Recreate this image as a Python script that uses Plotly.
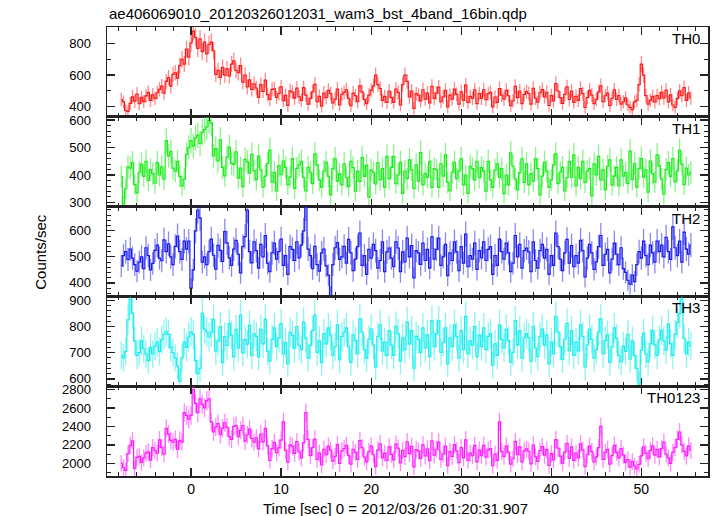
import plotly.graph_objects as go

# time grid of the light-curve bins (sec from trigger)
t_start = -7.75
bin_sec = 0.25

th0 = [
    445, 430, 375, 370, 420, 462, 435, 480, 418, 458, 432, 468, 490, 440, 475, 452, 488, 510, 530, 485,
    560, 585, 530, 605, 615, 580, 660, 700, 670, 765, 715, 805, 880, 840, 770, 830, 750, 810, 735, 795,
    810, 755, 605, 630, 585, 650, 600, 640, 595, 670, 690, 630, 615, 660, 555, 600, 525, 570, 510, 545,
    518, 459, 539, 497, 568, 476, 446, 509, 513, 458, 483, 525, 437, 471, 408, 500, 492, 454, 517, 462,
    440, 520, 473, 415, 452, 494, 541, 431, 465, 402, 486, 457, 503, 482, 423, 448, 511, 410, 478, 490,
    507, 452, 406, 486, 469, 431, 532, 494, 444, 419, 473, 503, 530, 600, 540, 515, 440, 465, 427, 499,
    457, 427, 511, 490, 410, 540, 600, 560, 461, 499, 389, 482, 473, 436, 507, 448, 486, 423, 528, 452,
    486, 524, 431, 461, 503, 398, 473, 448, 511, 478, 415, 494, 440, 536, 427, 465, 452, 507, 419, 482,
    452, 507, 444, 482, 490, 398, 461, 427, 515, 473, 448, 503, 469, 406, 436, 528, 457, 499, 419, 478,
    495, 483, 415, 516, 453, 428, 487, 508, 462, 491, 407, 470, 436, 546, 499, 457, 420, 478, 525, 445,
    499, 427, 465, 440, 515, 482, 394, 457, 503, 473, 419, 444, 494, 532, 431, 469, 486, 406, 452, 507,
    445, 470, 415, 430, 455, 410, 395, 380, 430, 440, 540, 670, 600, 470, 415, 440, 465, 430, 470, 450,
    490, 455, 505, 430, 475, 410, 395, 450, 500, 470, 520, 440, 485, 455,
]

th1 = [
    395, 290, 350, 430, 425, 445, 365, 335, 410, 440, 395, 450, 380, 420, 405, 370, 445, 400, 430, 385,
    525, 470, 485, 425, 415, 450, 395, 360, 385, 475, 500, 525, 505, 535, 545, 515, 555, 565, 575, 600,
    590, 470, 496, 451, 528, 428, 397, 465, 501, 442, 439, 484, 389, 425, 358, 457, 448, 407, 475, 416,
    383, 469, 419, 356, 396, 442, 491, 374, 410, 342, 433, 401, 451, 428, 365, 392, 460, 351, 424, 437,
    450, 391, 342, 428, 410, 369, 477, 437, 382, 355, 414, 446, 396, 328, 423, 459, 378, 405, 364, 441,
    391, 359, 450, 427, 341, 414, 377, 463, 395, 436, 319, 418, 409, 368, 445, 382, 423, 355, 468, 386,
    428, 468, 369, 400, 446, 333, 414, 387, 455, 419, 351, 437, 378, 482, 364, 405, 391, 450, 355, 423,
    419, 355, 441, 396, 473, 373, 342, 410, 446, 387, 414, 459, 364, 400, 333, 432, 423, 382, 450, 391,
    427, 414, 341, 450, 382, 355, 418, 441, 391, 423, 332, 400, 364, 481, 432, 386, 346, 409, 459, 373,
    441, 364, 405, 378, 459, 423, 328, 396, 446, 414, 355, 382, 437, 477, 369, 410, 428, 342, 391, 450,
    391, 473, 360, 428, 387, 450, 373, 414, 423, 324, 441, 400, 468, 382, 419, 346, 432, 455, 364, 396,
    428, 360, 455, 396, 410, 369, 487, 383, 442, 356, 424, 460, 392, 419, 338, 451, 405, 374, 473, 433,
    385, 330, 420, 445, 395, 460, 375, 415, 490, 440, 365, 425, 400, 410,
]

th2 = [
    465, 505, 520, 490, 530, 495, 470, 445, 480, 500, 455, 535, 505, 450, 475, 525, 545, 495, 485, 565,
    520, 550, 500, 470, 540, 580, 520, 490, 560, 530, 560, 380, 450, 600, 680, 650, 480, 500, 470, 520,
    568, 506, 453, 544, 525, 482, 597, 554, 496, 467, 530, 563, 510, 438, 539, 578, 680, 520, 477, 558,
    524, 457, 548, 500, 582, 476, 443, 515, 553, 491, 520, 568, 467, 505, 433, 539, 529, 486, 558, 496,
    545, 600, 690, 530, 505, 455, 540, 470, 445, 515, 530, 465, 430, 350, 470, 535, 555, 490, 500, 540,
    476, 567, 515, 447, 491, 539, 591, 467, 505, 433, 529, 495, 548, 524, 457, 486, 558, 443, 519, 534,
    495, 462, 558, 534, 443, 519, 481, 572, 500, 543, 419, 524, 515, 471, 553, 486, 529, 457, 577, 491,
    529, 572, 467, 500, 548, 428, 515, 486, 558, 519, 447, 539, 476, 587, 462, 505, 491, 553, 452, 524,
    496, 558, 486, 529, 539, 433, 505, 467, 568, 520, 491, 553, 515, 443, 476, 582, 500, 548, 457, 524,
    534, 519, 443, 558, 486, 457, 524, 548, 495, 529, 433, 505, 467, 591, 539, 491, 447, 515, 567, 476,
    543, 462, 505, 476, 563, 524, 423, 495, 548, 515, 452, 481, 539, 582, 467, 510, 529, 438, 491, 553,
    510, 470, 535, 455, 440, 410, 395, 430, 405, 470, 520, 495, 560, 505, 470, 545, 515, 480, 560, 520,
    545, 500, 575, 520, 490, 615, 535, 505, 560, 480, 595, 530, 510, 545,
]

th3 = [
    690, 680, 705, 825, 905, 850, 745, 690, 700, 745, 715, 695, 670, 720, 695, 725, 740, 705, 750, 770,
    780, 770, 720, 700, 680, 650, 590, 680, 740, 720, 760, 780, 770, 670, 620, 640, 850, 790, 780, 760,
    778, 827, 706, 744, 800, 662, 761, 728, 811, 767, 684, 789, 717, 844, 700, 750, 733, 805, 689, 772,
    762, 684, 789, 734, 828, 706, 668, 751, 795, 723, 756, 811, 695, 739, 657, 778, 767, 717, 800, 728,
    712, 817, 756, 679, 728, 784, 844, 701, 745, 662, 773, 734, 795, 767, 690, 723, 806, 673, 762, 778,
    795, 723, 663, 768, 746, 696, 828, 779, 712, 679, 751, 790, 729, 646, 762, 806, 707, 740, 690, 784,
    729, 690, 801, 773, 668, 757, 712, 817, 734, 784, 641, 762, 751, 701, 795, 718, 768, 685, 823, 723,
    773, 822, 701, 739, 795, 657, 756, 723, 806, 762, 679, 784, 712, 839, 695, 745, 728, 800, 684, 767,
    723, 795, 712, 762, 773, 652, 734, 690, 806, 751, 718, 790, 746, 663, 701, 823, 729, 784, 679, 757,
    773, 757, 668, 801, 718, 685, 762, 790, 729, 768, 657, 740, 696, 839, 779, 723, 674, 751, 812, 707,
    784, 690, 740, 707, 806, 762, 646, 729, 790, 751, 679, 712, 779, 828, 696, 746, 768, 663, 723, 795,
    755, 690, 665, 725, 705, 770, 675, 745, 690, 640, 580, 710, 775, 695, 665, 735, 785, 730, 690, 750,
    785, 745, 710, 810, 735, 690, 770, 815, 850, 905, 755, 695, 740, 725,
]

th0123 = [
    2000, 1955, 1925, 2105, 2195, 2245, 1945, 2065, 2075, 2010, 2060, 2110, 2125, 2035, 2170, 2140, 2110, 2255, 2170, 2100,
    2380, 2320, 2250, 2230, 2260, 2150, 2250, 2230, 2550, 2520, 2480, 2520, 2800, 2650, 2550, 2700, 2640, 2600, 2680, 2700,
    2450, 2340, 2395, 2430, 2310, 2380, 2440, 2390, 2290, 2260, 2400, 2410, 2290, 2360, 2410, 2240, 2310, 2370, 2270, 2230,
    2276, 2156, 2318, 2233, 2378, 2190, 2031, 2159, 2227, 2116, 2167, 2252, 2450, 2141, 2014, 2201, 2184, 2107, 2235, 2124,
    2059, 2221, 2550, 2260, 2084, 2170, 2263, 2042, 2110, 1982, 2153, 2093, 2187, 2144, 2025, 2076, 2204, 1999, 2136, 2161,
    2195, 2084, 1991, 2153, 2119, 2042, 2246, 2170, 2067, 2016, 2127, 2187, 2093, 1965, 2144, 2212, 2059, 2110, 2033, 2178,
    2098, 2038, 2209, 2166, 2004, 2141, 2072, 2234, 2106, 2183, 1962, 2149, 2132, 2055, 2200, 2081, 2158, 2030, 2243, 2089,
    2153, 2229, 2042, 2101, 2187, 1974, 2127, 2076, 2204, 2136, 2008, 2170, 2059, 2255, 2033, 2110, 2084, 2195, 2016, 2144,
    2084, 2195, 2067, 2144, 2161, 1974, 2101, 2033, 2450, 2127, 2076, 2187, 2119, 1991, 2050, 2238, 2093, 2178, 2016, 2136,
    2156, 2131, 1994, 2199, 2071, 2020, 2139, 2182, 2088, 2148, 1977, 2105, 2037, 2258, 2165, 2079, 2003, 2122, 2216, 2054,
    2178, 2033, 2110, 2059, 2212, 2144, 1965, 2093, 2187, 2127, 2016, 2067, 2170, 2400, 2042, 2119, 2153, 1991, 2084, 2195,
    2120, 2060, 2160, 2090, 2010, 2040, 1960, 2020, 1970, 1940, 1990, 2080, 2180, 2110, 2050, 2140, 2190, 2090, 2150, 2070,
    2160, 2230, 2100, 2060, 2000, 2120, 2170, 2260, 2340, 2200, 2130, 2080, 2190, 2140,
]

series_names = ["TH0", "TH1", "TH2", "TH3", "TH0123"]
series_values = [th0, th1, th2, th3, th0123]
line_colors = ["#ff1a1a", "#1aee1a", "#1a1aee", "#1aeeee", "#ff1aff"]
err_colors = ["rgba(255,40,40,0.55)", "rgba(40,235,40,0.55)", "rgba(40,40,235,0.55)",
              "rgba(40,235,235,0.55)", "rgba(255,40,255,0.55)"]
y_ranges = [[335, 906], [285, 612], [348, 693], [572, 915], [1863, 2836]]
y_major = [200, 100, 100, 100, 200]
y_minor = [100, 20, 20, 20, 100]
x_range = [-9.33, 57.4]
x_ticks = [0, 10, 20, 30, 40, 50]

FONT = "Liberation Sans, Arial, sans-serif"
fig = go.Figure()
n_panels = len(series_names)
annotations = []
for i, (name, vals) in enumerate(zip(series_names, series_values)):
    t = [t_start + bin_sec * k for k in range(len(vals))]
    err = [(v / bin_sec) ** 0.5 for v in vals]
    sfx = "" if i == 0 else str(i + 1)
    fig.add_trace(go.Scatter(
        x=t, y=vals, mode="lines", line=dict(color=line_colors[i], width=1.2, shape="hvh"),
        error_y=dict(type="data", array=err, visible=True, color=err_colors[i], thickness=1.3, width=0),
        xaxis="x" + sfx, yaxis="y" + sfx, showlegend=False, name=name, hoverinfo="skip",
    ))
    top = 1 - i / n_panels
    bot = 1 - (i + 1) / n_panels
    axis_common = dict(showline=True, linecolor="#222", linewidth=1.5, mirror="allticks",
                       ticks="inside", ticklen=8, tickwidth=1.3, tickcolor="#222",
                       showgrid=False, zeroline=False)
    fig.layout["xaxis" + sfx] = dict(
        axis_common, domain=[0, 1], range=x_range, anchor="y" + sfx,
        tickvals=x_ticks, showticklabels=(i == n_panels - 1),
        tickfont=dict(family=FONT, size=14, color="black"),
        minor=dict(dtick=2, tick0=0, ticks="inside", ticklen=4, tickcolor="#222", tickwidth=1),
        **({} if i == 0 else {"matches": "x"}),
    )
    fig.layout["yaxis" + sfx] = dict(
        axis_common, domain=[bot, top], range=y_ranges[i], anchor="x" + sfx,
        dtick=y_major[i], tick0=0, ticklabelstandoff=12,
        tickfont=dict(family=FONT, size=13, color="black"),
        minor=dict(dtick=y_minor[i], tick0=0, ticks="inside", ticklen=4, tickcolor="#222", tickwidth=1),
    )
    annotations.append(dict(text=name, xref="paper", yref="paper", x=1, y=top,
                            xanchor="right", yanchor="top", xshift=-6, yshift=-1, showarrow=False,
                            font=dict(family=FONT, size=15, color="black")))

annotations.append(dict(text="Counts/sec", xref="paper", yref="paper", x=-0.111, y=0.5,
                        textangle=-90, showarrow=False, xanchor="center", yanchor="middle",
                        font=dict(family=FONT, size=15, color="black")))
annotations.append(dict(text="Time [sec] 0 = 2012/03/26 01:20:31.907", xref="paper", yref="paper",
                        x=0.48, y=0, yshift=-32, showarrow=False, xanchor="center", yanchor="middle",
                        font=dict(family=FONT, size=15, color="black")))
annotations.append(dict(text="ae406069010_20120326012031_wam3_bst_4band_16bin.qdp", xref="paper", yref="paper",
                        x=0, y=1, yshift=14, showarrow=False, xanchor="left", yanchor="middle",
                        font=dict(family=FONT, size=15, color="black")))

fig.update_layout(width=717, height=516, margin=dict(l=107, r=7, t=27, b=40),
                  plot_bgcolor="white", paper_bgcolor="white", annotations=annotations,
                  hovermode=False)
fig.write_html("out.html", config={"displayModeBar": False, "staticPlot": True},
               post_script="document.body.style.margin='0px';")
